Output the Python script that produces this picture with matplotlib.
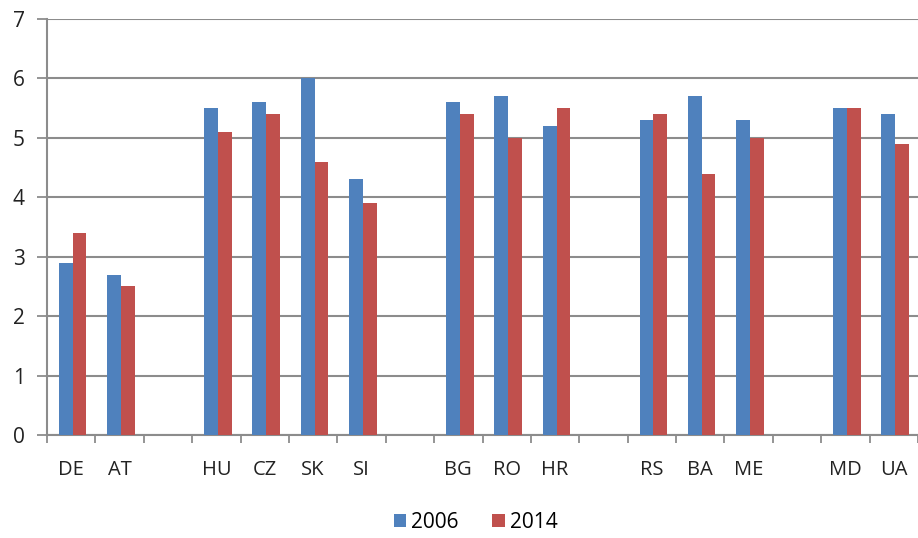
import numpy as np
import matplotlib
matplotlib.use("Agg")
import matplotlib.pyplot as plt
from matplotlib.patches import Patch

# categories (empty strings are the gaps between country groups)
countries = ["DE", "AT", "", "HU", "CZ", "SK", "SI", "", "BG", "RO", "HR", "",
             "RS", "BA", "ME", "", "MD", "UA"]
vals_2006 = [2.9, 2.7, np.nan, 5.5, 5.6, 6.0, 4.3, np.nan, 5.6, 5.7, 5.2, np.nan,
             5.3, 5.7, 5.3, np.nan, 5.5, 5.4]
vals_2014 = [3.4, 2.5, np.nan, 5.1, 5.4, 4.6, 3.9, np.nan, 5.4, 5.0, 5.5, np.nan,
             5.4, 4.4, 5.0, np.nan, 5.5, 4.9]
series_names = ["2006", "2014"]

blue = "#4F81BD"
red = "#C0504D"
grid_col = "#8C8C8C"

plt.rcParams['font.family'] = ['Open Sans', 'DejaVu Sans']

fig = plt.figure(figsize=(9.18, 5.38), dpi=100)
ax = fig.add_axes([47 / 918, 1 - 435 / 538, 1 - 47 / 918, (435 - 19) / 538])

x = np.arange(len(countries))
w = 0.285
ax.bar(x - w / 2 + 0.03, vals_2006, w, color=blue, zorder=3)
ax.bar(x + w / 2 + 0.03, vals_2014, w, color=red, zorder=3)

ax.set_ylim(0, 7)
ax.set_yticks(range(8))
ax.set_xlim(-0.5, (918 - 47) / 48.7 - 0.5)

# labels at centres, tick marks at category boundaries
ax.set_xticks(x)
ax.set_xticklabels(countries)
ax.set_xticks(np.arange(len(countries) + 1) - 0.5, minor=True)
ax.tick_params(axis="x", which="major", length=0, pad=18, labelsize=14.5, colors="#222222")
ax.tick_params(axis="x", which="minor", length=6, width=1.3, color=grid_col, direction="out")
ax.tick_params(axis="y", length=7, width=1.3, color=grid_col, pad=9, labelsize=15,
               labelcolor="#222222")

ax.grid(axis="y", color=grid_col, linewidth=1.5, zorder=0)
for s in ["top", "right"]:
    ax.spines[s].set_visible(False)
for s in ["left", "bottom"]:
    ax.spines[s].set_color(grid_col)
    ax.spines[s].set_linewidth(1.5)

handles = [Patch(facecolor=blue), Patch(facecolor=red)]
fig.legend(handles, series_names, loc="center", bbox_to_anchor=(0.518, 1 - 522 / 538),
           ncol=2, frameon=False, fontsize=15, handlelength=0.6, handleheight=0.6,
           handletextpad=0.25, columnspacing=1.6, borderpad=0)

fig.savefig("out.png", dpi=100)
